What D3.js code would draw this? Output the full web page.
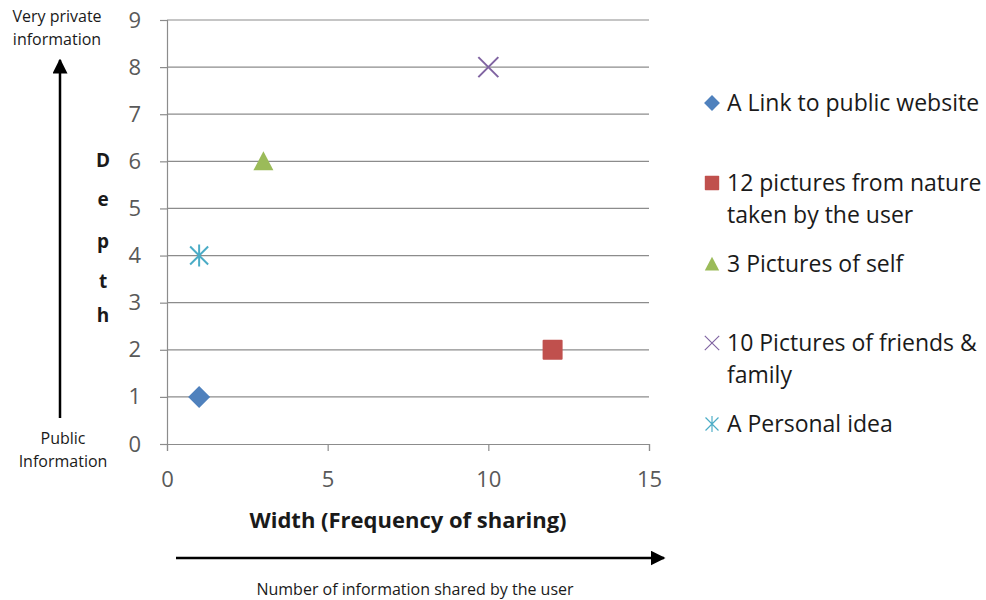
<!DOCTYPE html>
<html lang="en">
<head>
  <meta charset="UTF-8" />
  <title>Depth vs width</title>
  <script src="https://d3js.org/d3.v7.min.js"></script>
  <style>
    body { margin: 0; padding: 0; background: #fff; }
    svg { font-family: "Open Sans", sans-serif; }
  </style>
</head>
<body>
  <svg width="986" height="600"></svg>
  <script>
    // series data
    const names = ["A Link to public website", "12 pictures from nature taken by the user",
      "3 Pictures of self", "10 Pictures of friends & family", "A Personal idea"];
    const xValues = [1, 12, 3, 10, 1];
    const yValues = [1, 2, 6, 8, 4];
    const colors = ["#4F81BD", "#C0504D", "#9BBB59", "#8064A2", "#4BACC6"];
    const shapes = ["diamond", "square", "triangle", "x", "star"];
    const legendLines = [["A Link to public website"], ["12 pictures from nature", "taken by the user"],
      ["3 Pictures of self"], ["10 Pictures of friends &", "family"], ["A Personal idea"]];
    const xTicks = [0, 5, 10, 15];
    const yTicks = [0, 1, 2, 3, 4, 5, 6, 7, 8, 9];

    const svg = d3.select("svg");

    const x = d3.scaleLinear().domain([0, 15]).range([167, 649]);
    const y = d3.scaleLinear().domain([0, 9]).range([444, 20]);

    // gridlines
    svg.append("g")
      .selectAll("line")
      .data(yTicks.filter(d => d > 0))
      .join("line")
      .attr("x1", x(0)).attr("x2", x(15))
      .attr("y1", d => y(d)).attr("y2", d => y(d))
      .attr("stroke", "#8c8c8c").attr("stroke-width", 1.2);

    // y axis
    const yAxis = svg.append("g")
      .attr("transform", `translate(${x(0)},0)`)
      .call(d3.axisLeft(y).tickValues(yTicks).tickSize(7).tickPadding(19));
    yAxis.select(".domain").attr("stroke", "#8c8c8c").attr("stroke-width", 1.2);
    yAxis.selectAll(".tick line").attr("stroke", "#8c8c8c").attr("stroke-width", 1.2);
    yAxis.selectAll("text").attr("fill", "#595959").attr("font-size", 22)
      .attr("font-family", "'Open Sans', sans-serif");

    // x axis
    const xAxis = svg.append("g")
      .attr("transform", `translate(0,${y(0)})`)
      .call(d3.axisBottom(x).tickValues(xTicks).tickSize(7).tickPadding(20));
    xAxis.select(".domain").attr("stroke", "#8c8c8c").attr("stroke-width", 1.2);
    xAxis.selectAll(".tick line").attr("stroke", "#8c8c8c").attr("stroke-width", 1.2);
    xAxis.selectAll("text").attr("fill", "#595959").attr("font-size", 22)
      .attr("font-family", "'Open Sans', sans-serif");

    function drawMarker(g, shape, color) {
      if (shape === "diamond") {
        g.append("path").attr("d", "M0,-11L11,0L0,11L-11,0Z").attr("fill", color);
      } else if (shape === "square") {
        g.append("rect").attr("x", -10).attr("y", -10).attr("width", 20).attr("height", 20)
          .attr("rx", 1).attr("fill", color);
      } else if (shape === "triangle") {
        g.append("path").attr("d", "M0,-10L10,9L-10,9Z").attr("fill", color);
      } else if (shape === "x") {
        g.append("path").attr("d", "M-10,-10L10,10M10,-10L-10,10")
          .attr("stroke", color).attr("stroke-width", 2).attr("fill", "none");
      } else if (shape === "star") {
        g.append("path").attr("d", "M-9,-9L9,9M9,-9L-9,9M0,-11V11")
          .attr("stroke", color).attr("stroke-width", 2).attr("fill", "none");
      }
    }

    // points
    xValues.forEach((xv, i) => {
      const g = svg.append("g").attr("transform", `translate(${x(xv)},${y(yValues[i])})`);
      drawMarker(g, shapes[i], colors[i]);
    });

    // legend
    const legendY = [103, 183, 264, 343, 424];
    legendLines.forEach((lines, i) => {
      const g = svg.append("g").attr("transform", `translate(712,${legendY[i]})`);
      const m = g.append("g").attr("transform", "scale(0.72)");
      drawMarker(m, shapes[i], colors[i]);
      if (shapes[i] === "x" || shapes[i] === "star") m.selectAll("path").attr("stroke-width", 1.6);
      lines.forEach((t, j) => {
        g.append("text").attr("x", 15).attr("y", 8 + j * 32)
          .attr("font-size", 23).attr("fill", "#1a1a1a").text(t);
      });
    });

    // axis titles
    svg.append("text").attr("x", 408).attr("y", 528).attr("text-anchor", "middle")
      .attr("font-size", 22).attr("font-weight", "bold").attr("fill", "#1a1a1a")
      .text("Width (Frequency of sharing)");

    const depth = ["D", "e", "p", "t", "h"];
    const depthY = [167, 206, 248, 288, 322];
    depth.forEach((c, i) => {
      svg.append("text").attr("x", 103).attr("y", depthY[i]).attr("text-anchor", "middle")
        .attr("font-size", 19).attr("font-weight", "bold").attr("fill", "#1a1a1a").text(c);
    });

    // arrows
    const defs = svg.append("defs");
    defs.append("marker").attr("id", "arr").attr("viewBox", "0 0 10 10")
      .attr("refX", 9).attr("refY", 5).attr("markerWidth", 6).attr("markerHeight", 6)
      .attr("markerUnits", "strokeWidth").attr("orient", "auto")
      .append("path").attr("d", "M0,0L10,5L0,10Z").attr("fill", "#000");

    svg.append("line").attr("x1", 60).attr("y1", 418).attr("x2", 60).attr("y2", 60)
      .attr("stroke", "#000").attr("stroke-width", 2.5).attr("marker-end", "url(#arr)");
    svg.append("line").attr("x1", 176).attr("y1", 558).attr("x2", 664).attr("y2", 558)
      .attr("stroke", "#000").attr("stroke-width", 2.5).attr("marker-end", "url(#arr)");

    // annotations
    const note = (tx, ty, t) => svg.append("text").attr("x", tx).attr("y", ty)
      .attr("text-anchor", "middle").attr("font-size", 16).attr("fill", "#1a1a1a").text(t);
    note(57, 22, "Very private");
    note(57, 45, "information");
    note(63, 444, "Public");
    note(63, 467, "Information");
    note(415, 595, "Number of information shared by the user");
  </script>
</body>
</html>
